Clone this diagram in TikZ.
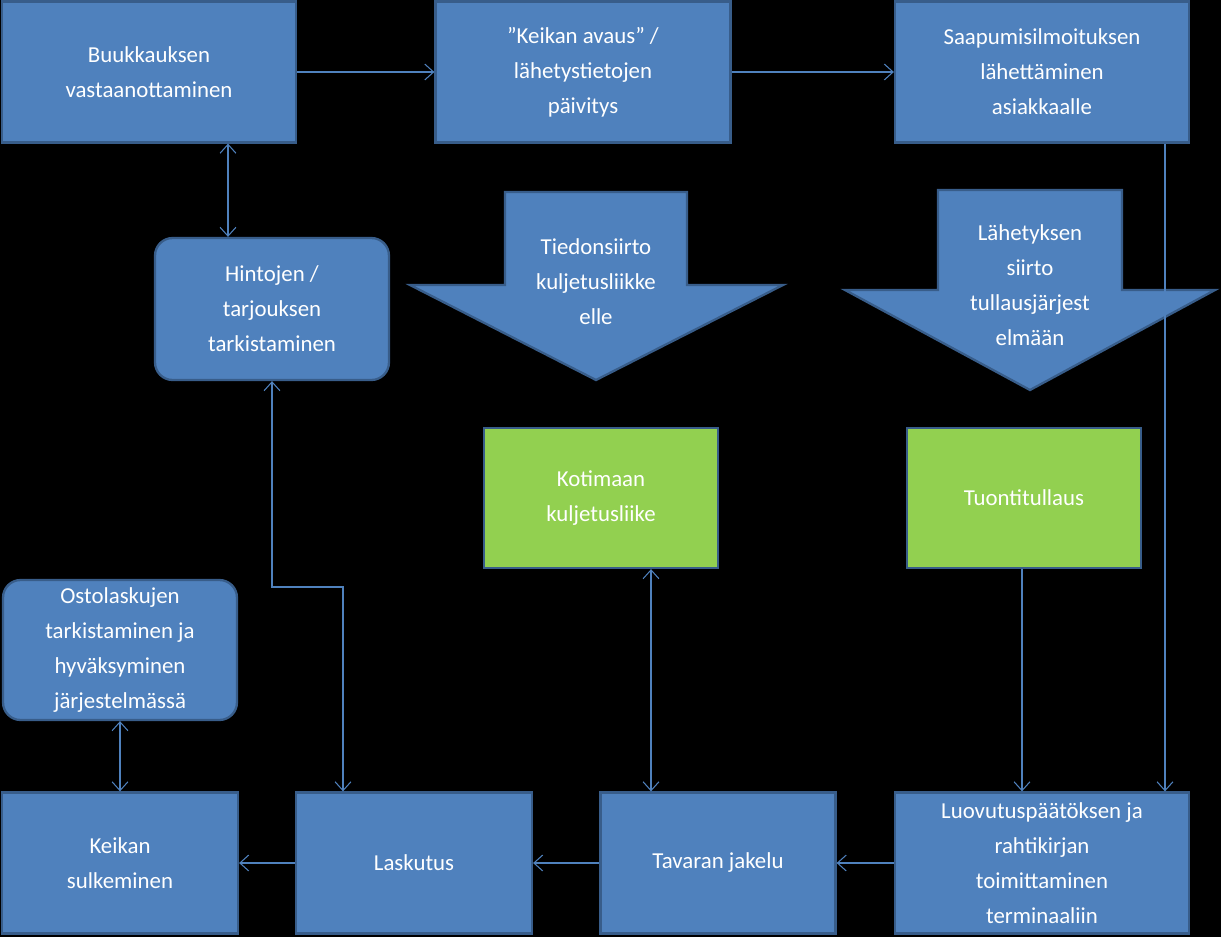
\documentclass[tikz,border=0pt]{standalone}
\usepackage{fontspec}
\setmainfont{Carlito}
\usetikzlibrary{arrows.meta}
\definecolor{boxblue}{HTML}{4F81BD}
\definecolor{boxedge}{HTML}{385D8A}
\definecolor{boxgreen}{HTML}{92D050}
\tikzset{
  box/.style={draw=boxedge, line width=1.3pt, fill=boxblue, text=white,
    align=center, inner sep=2pt, font=\fontsize{13}{20}\selectfont},
  greenbox/.style={box, fill=boxgreen},
  roundbox/.style={box, rounded corners=10pt},
  link/.style={draw=boxblue, line width=0.6pt, -{Straight Barb[length=5pt,width=9pt]}},
  twolink/.style={link, {Straight Barb[length=5pt,width=9pt]}-{Straight Barb[length=5pt,width=9pt]}}
}
\begin{document}
\begin{tikzpicture}[x=0.02cm, y=-0.02cm]
		\fill[black] (0,0) rectangle (1221,937);

		% ylarivi
		\node[box, minimum width=5.88cm, minimum height=2.82cm] (buukkaus) at (149,72) {Buukkauksen\\vastaanottaminen};
		\node[box, minimum width=5.9cm, minimum height=2.82cm] (avaus) at (583,72) {”Keikan avaus” /\\lähetystietojen\\päivitys};
		\node[box, minimum width=5.88cm, minimum height=2.82cm] (saapuminen) at (1042,72) {Saapumisilmoituksen\\lähettäminen\\asiakkaalle};

		\node[roundbox, minimum width=4.68cm, minimum height=2.84cm] (hinnat) at (272,309) {Hintojen /\\tarjouksen\\tarkistaminen};

		% isot nuolet
		\draw[box] (505,192) -- (687,192) -- (687,285) -- (783,285) -- (596,380) -- (410,285) -- (505,285) -- cycle;
		\node[text=white, align=center, font=\fontsize{13}{20}\selectfont] (siirto) at (596,282) {Tiedonsiirto\\kuljetusliikke\\elle};
		\draw[box] (938,190) -- (1122,190) -- (1122,290) -- (1215,290) -- (1030,390) -- (845,290) -- (938,290) -- cycle;
		\node[text=white, align=center, font=\fontsize{13}{20}\selectfont] (tulli) at (1030,285) {Lähetyksen\\siirto\\tullausjärjest\\elmään};

		\node[greenbox, minimum width=4.68cm, minimum height=2.8cm] (kotimaa) at (601,498) {Kotimaan\\kuljetusliike};
		\node[greenbox, minimum width=4.68cm, minimum height=2.8cm] (tuonti) at (1024,498) {Tuontitullaus};

		\node[roundbox, minimum width=4.68cm, minimum height=2.8cm] (osto) at (120,650) {Ostolaskujen\\tarkistaminen ja\\hyväksyminen\\järjestelmässä};

		% alarivi
		\node[box, minimum width=4.72cm, minimum height=2.82cm] (sulku) at (120,863) {Keikan\\sulkeminen};
		\node[box, minimum width=4.72cm, minimum height=2.82cm] (lasku) at (414,863) {Laskutus};
		\node[box, minimum width=4.7cm, minimum height=2.82cm] (jakelu) at (718,863) {Tavaran jakelu};
		\node[box, minimum width=5.88cm, minimum height=2.82cm] (luovutus) at (1042,863) {Luovutuspäätöksen ja\\rahtikirjan\\toimittaminen\\terminaaliin};

		% yhteydet
		\draw[link] (buukkaus) -- (avaus);
		\draw[link] (avaus) -- (saapuminen);
		\draw[twolink] (buukkaus.south -| 228,0) -- (hinnat.north -| 228,0);
		\draw[link] (saapuminen.south -| 1165,0) -- (luovutus.north -| 1165,0);
		\draw[link] (tuonti.south -| 1022,0) -- (luovutus.north -| 1022,0);
		\draw[twolink] (kotimaa.south -| 651,0) -- (jakelu.north -| 651,0);
		\draw[twolink] (osto) -- (sulku);
		\draw[twolink] (hinnat.south) -- (272,587) -- (343,587) -- (lasku.north -| 343,0);
		\draw[link] (luovutus) -- (jakelu);
		\draw[link] (jakelu) -- (lasku);
		\draw[link] (lasku) -- (sulku);
	\end{tikzpicture}
\end{document}
